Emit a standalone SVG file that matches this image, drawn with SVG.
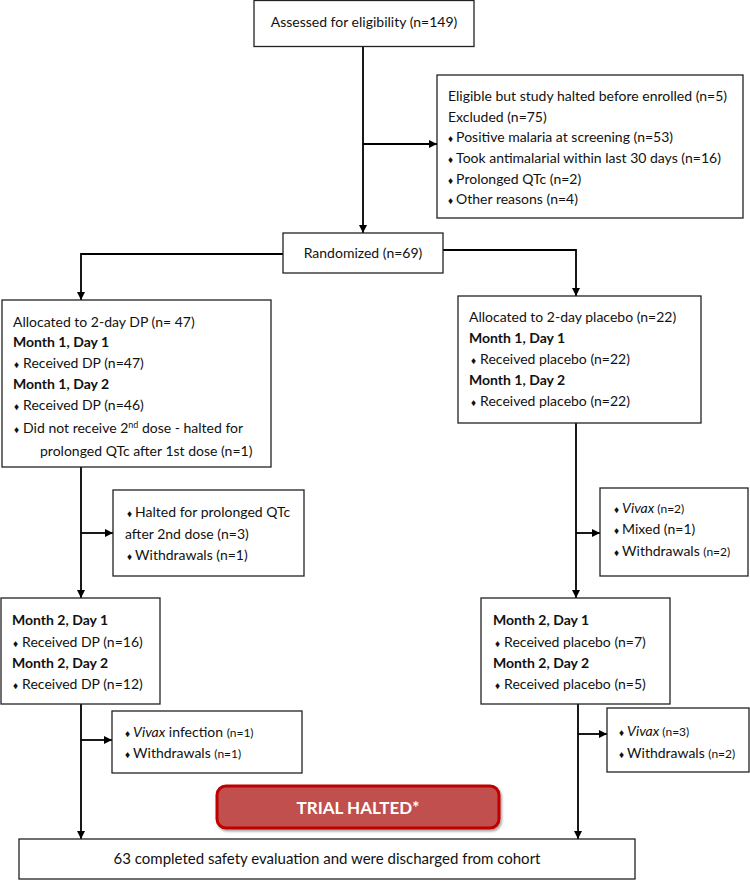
<svg xmlns="http://www.w3.org/2000/svg" width="750" height="881" viewBox="0 0 750 881">
<defs>
<marker id="arr" viewBox="0 0 10 10" refX="10" refY="5" markerWidth="8" markerHeight="8" markerUnits="userSpaceOnUse" orient="auto">
<path d="M0,0 L10,5 L0,10 Z" fill="#000"/>
</marker>
<filter id="sh" x="-10%" y="-20%" width="130%" height="150%">
<feDropShadow dx="1.5" dy="2" stdDeviation="1.2" flood-color="#000" flood-opacity="0.35"/>
</filter>
</defs>
<style>
.box{fill:#fff;stroke:#222;stroke-width:1.3}
.t{font-family:Lato,"Liberation Sans",sans-serif;font-size:14px;fill:#111}
.s{font-size:12px}
.sup{font-size:9px}
.b{font-weight:bold}
.d{font-size:10px}
.c{text-anchor:middle}
.big{font-size:15px}
.ln{fill:none;stroke:#000;stroke-width:1.8;marker-end:url(#arr)}
.halt{fill:#c0504d;stroke:#c00000;stroke-width:3}
.ht{font-family:Lato,"Liberation Sans",sans-serif;font-size:17px;font-weight:bold;fill:#fff;text-anchor:middle}
</style>
<g id="connectors">
<path class="ln" d="M363,47 V233"/>
<path class="ln" d="M363,144 H437"/>
<path class="ln" d="M283,254 H81 V300"/>
<path class="ln" d="M443,250 H576 V296"/>
<path class="ln" d="M81,467 V598"/>
<path class="ln" d="M81,533 H113"/>
<path class="ln" d="M81,704 V839"/>
<path class="ln" d="M81,740 H112"/>
<path class="ln" d="M576,423 V598"/>
<path class="ln" d="M576,533 H600"/>
<path class="ln" d="M578,704 V839"/>
<path class="ln" d="M578,734 H607"/>
</g>
<g id="assessed">
<rect class="box" x="254" y="0.5" width="220" height="46"/>
<text class="t c" x="364" y="27">Assessed for eligibility (n=149)</text>
</g>
<g id="excluded">
<rect class="box" x="437" y="75" width="306" height="143"/>
<text class="t" x="448" y="101">Eligible but study halted before enrolled (n=5)</text>
<text class="t" x="448" y="122">Excluded (n=75)</text>
<text class="t" x="448" y="142"><tspan class="d">♦</tspan><tspan dx="3">Positive malaria at screening (n=53)</tspan></text>
<text class="t" x="448" y="163"><tspan class="d">♦</tspan><tspan dx="3">Took antimalarial within last 30 days (n=16)</tspan></text>
<text class="t" x="448" y="184"><tspan class="d">♦</tspan><tspan dx="3">Prolonged QTc (n=2)</tspan></text>
<text class="t" x="448" y="204"><tspan class="d">♦</tspan><tspan dx="3">Other reasons (n=4)</tspan></text>
</g>
<g id="randomized">
<rect class="box" x="283" y="233" width="160" height="40"/>
<text class="t c" x="363" y="258">Randomized (n=69)</text>
</g>
<g id="dp">
<rect class="box" x="2" y="300" width="269" height="167"/>
<text class="t" x="13" y="327">Allocated to 2-day DP (n= 47)</text>
<text class="t b" x="13" y="347">Month 1, Day 1</text>
<text class="t" x="14" y="368"><tspan class="d">♦</tspan><tspan dx="4">Received DP (n=47)</tspan></text>
<text class="t b" x="13" y="389">Month 1, Day 2</text>
<text class="t" x="14" y="410"><tspan class="d">♦</tspan><tspan dx="4">Received DP (n=46)</tspan></text>
<text class="t" x="14" y="433"><tspan class="d">♦</tspan><tspan dx="4">Did not receive 2</tspan><tspan class="sup" dy="-5">nd</tspan><tspan dy="5"> dose -  halted for</tspan></text>
<text class="t" x="40" y="456">prolonged QTc after 1st dose (n=1)</text>
</g>
<g id="placebo">
<rect class="box" x="458" y="296" width="243" height="127"/>
<text class="t" x="469" y="322">Allocated to 2-day placebo (n=22)</text>
<text class="t b" x="469" y="343">Month 1, Day 1</text>
<text class="t" x="471" y="364"><tspan class="d">♦</tspan><tspan dx="4">Received placebo (n=22)</tspan></text>
<text class="t b" x="469" y="385">Month 1, Day 2</text>
<text class="t" x="471" y="406"><tspan class="d">♦</tspan><tspan dx="4">Received placebo (n=22)</tspan></text>
</g>
<g id="dp-loss1">
<rect class="box" x="113" y="490" width="191" height="86"/>
<text class="t" x="127" y="517"><tspan class="d">♦</tspan><tspan dx="3">Halted for prolonged QTc</tspan></text>
<text class="t" x="125" y="539">after 2nd dose (n=3)</text>
<text class="t" x="127" y="560"><tspan class="d">♦</tspan><tspan dx="3">Withdrawals (n=1)</tspan></text>
</g>
<g id="placebo-loss1">
<rect class="box" x="600" y="488" width="148" height="88"/>
<text class="t" x="614" y="513"><tspan class="d">♦</tspan><tspan dx="3" font-style="italic">Vivax</tspan><tspan class="s"> (n=2)</tspan></text>
<text class="t" x="614" y="534"><tspan class="d">♦</tspan><tspan dx="3">Mixed (n=1)</tspan></text>
<text class="t" x="614" y="556"><tspan class="d">♦</tspan><tspan dx="3">Withdrawals </tspan><tspan class="s">(n=2)</tspan></text>
</g>
<g id="dp-m2">
<rect class="box" x="1" y="598" width="159" height="106"/>
<text class="t b" x="12" y="625">Month 2, Day 1</text>
<text class="t" x="13" y="647"><tspan class="d">♦</tspan><tspan dx="4">Received DP (n=16)</tspan></text>
<text class="t b" x="12" y="668">Month 2, Day 2</text>
<text class="t" x="13" y="689"><tspan class="d">♦</tspan><tspan dx="4">Received DP (n=12)</tspan></text>
</g>
<g id="placebo-m2">
<rect class="box" x="481" y="598" width="189" height="106"/>
<text class="t b" x="493" y="625">Month 2, Day 1</text>
<text class="t" x="495" y="647"><tspan class="d">♦</tspan><tspan dx="4">Received placebo (n=7)</tspan></text>
<text class="t b" x="493" y="668">Month 2, Day 2</text>
<text class="t" x="495" y="689"><tspan class="d">♦</tspan><tspan dx="4">Received placebo (n=5)</tspan></text>
</g>
<g id="dp-loss2">
<rect class="box" x="112" y="711" width="190" height="62"/>
<text class="t" x="125" y="737"><tspan class="d">♦</tspan><tspan dx="3" font-style="italic">Vivax</tspan><tspan> infection </tspan><tspan class="s">(n=1)</tspan></text>
<text class="t" x="125" y="758"><tspan class="d">♦</tspan><tspan dx="3">Withdrawals </tspan><tspan class="s">(n=1)</tspan></text>
</g>
<g id="placebo-loss2">
<rect class="box" x="607" y="708" width="142" height="64"/>
<text class="t" x="619" y="736"><tspan class="d">♦</tspan><tspan dx="3" font-style="italic">Vivax</tspan><tspan class="s"> (n=3)</tspan></text>
<text class="t" x="619" y="758"><tspan class="d">♦</tspan><tspan dx="3">Withdrawals </tspan><tspan class="s">(n=2)</tspan></text>
</g>
<g id="halted">
<rect class="halt" x="217" y="786" width="282" height="42" rx="9" filter="url(#sh)"/>
<text class="ht" x="358" y="814">TRIAL HALTED*</text>
</g>
<g id="completed">
<rect class="box" x="19" y="839" width="616" height="40"/>
<text class="t c big" x="327" y="864">63 completed safety evaluation and were discharged from cohort</text>
</g>
</svg>
